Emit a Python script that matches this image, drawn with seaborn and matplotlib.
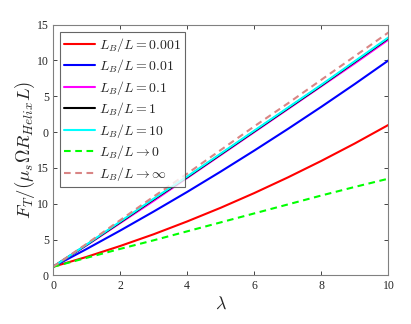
import matplotlib
matplotlib.use('Agg')
import matplotlib.pyplot as plt
import seaborn as sns

sns.set_style('white')
plt.rcParams['mathtext.fontset'] = 'cm'
plt.rcParams['font.family'] = ['Liberation Serif', 'DejaVu Serif']

# lambda values
lam = [0, 1, 2, 3, 4, 5, 6, 7, 8, 9, 10]

# thrust curves
ft_0001 = [1.2, 2.58, 4.1, 5.74, 7.53, 9.44, 11.49, 13.67, 15.98, 18.42, 21.0]
ft_001 = [1.2, 3.68, 6.25, 8.91, 11.65, 14.49, 17.42, 20.43, 23.53, 26.72, 30.0]
ft_01 = [1.2, 4.2, 7.3, 10.4, 13.6, 16.8, 20.0, 23.2, 26.4, 29.6, 32.9]
ft_1 = [1.2, 4.25, 7.4, 10.6, 13.7, 16.9, 20.1, 23.3, 26.5, 29.8, 33.1]
ft_10 = [1.2, 4.3, 7.5, 10.7, 13.8, 17.0, 20.2, 23.4, 26.6, 29.9, 33.2]
ft_zero = [1.2, 2.45, 3.7, 4.9, 6.15, 7.4, 8.65, 9.9, 11.15, 12.35, 13.5]
ft_inf = [1.2, 4.4, 7.7, 11.0, 14.2, 17.5, 20.8, 24.0, 27.3, 30.6, 33.9]

ytick_vals = [0, 5, 10, 15, 20, 25, 30, 35]
ytick_labels = ['0', '5', '10', '15', '0', '5', '10', '15']

fig = plt.figure(figsize=(4.11, 3.24), dpi=100)
ax = fig.add_axes([0.129, 0.150, 0.816, 0.774])

lw = 1.5
dash = (0, (3.2, 2.2))
sns.lineplot(x=lam, y=ft_0001, color='#ff0000', lw=lw, label=r'$L_B/L = 0.001$', ax=ax)
sns.lineplot(x=lam, y=ft_001, color='#0000ff', lw=lw, label=r'$L_B/L = 0.01$', ax=ax)
sns.lineplot(x=lam, y=ft_01, color='#ff00ff', lw=lw, label=r'$L_B/L = 0.1$', ax=ax)
sns.lineplot(x=lam, y=ft_1, color='black', lw=lw, label=r'$L_B/L = 1$', ax=ax)
sns.lineplot(x=lam, y=ft_10, color='#00ffff', lw=lw, label=r'$L_B/L = 10$', ax=ax)
sns.lineplot(x=lam, y=ft_zero, color='#00ff00', lw=lw, ls=dash, label=r'$L_B/L \rightarrow 0$', ax=ax)
sns.lineplot(x=lam, y=ft_inf, color='#d98585', lw=lw, ls=dash, label=r'$L_B/L \rightarrow \infty$', ax=ax)

ax.set_xlim(0, 10)
ax.set_ylim(0, 35)
ax.set_xticks([0, 2, 4, 6, 8, 10])
ax.set_yticks(ytick_vals)
ax.set_yticklabels(ytick_labels)
ax.tick_params(direction='in', length=3, width=0.6, colors='#262626', labelsize=8.5,
               top=True, right=True, bottom=True, left=True, pad=3)
for sp in ax.spines.values():
    sp.set_color('#808080')
    sp.set_linewidth(0.8)

ax.set_xlabel(r'$\lambda$', fontsize=13, labelpad=3)
ax.set_ylabel(r'$F_T/(\mu_s \Omega R_{Helix} L)$', fontsize=13.5, labelpad=0)

leg = ax.legend(loc='upper left', fontsize=10, frameon=True, fancybox=False,
                handlelength=2.2, handletextpad=0.3, labelspacing=0.25,
                borderpad=0.3, borderaxespad=0.5)
leg.get_frame().set_edgecolor('#404040')
leg.get_frame().set_linewidth(0.8)

fig.savefig('out.png', dpi=100)
